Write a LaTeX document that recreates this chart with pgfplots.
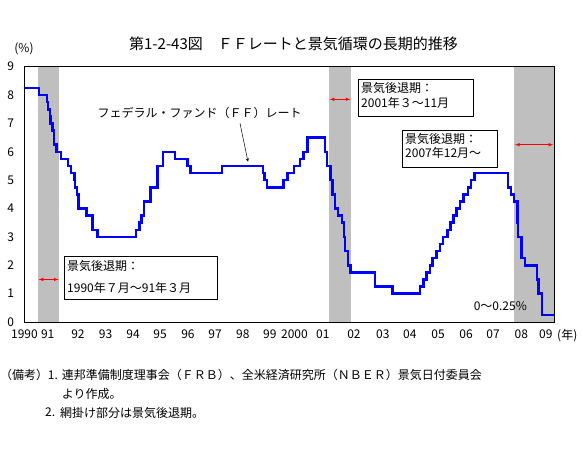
\documentclass[border=0pt]{standalone}
\usepackage{fontspec}
\setmainfont{Noto Sans CJK JP}
\usepackage{pgfplots}
\pgfplotsset{compat=1.18}
\definecolor{shade}{rgb}{0.75,0.75,0.75}
\newcommand{\fs}{\fontsize{12}{14}\selectfont}
\begin{document}
\begin{tikzpicture}
\path[use as bounding box] (0pt,0pt) rectangle (583pt,450pt);
\begin{axis}[
  at={(24.5pt,128pt)}, anchor=south west,
  scale only axis, width=529.5pt, height=255.3pt,
  xmin=1990, xmax=2009.4, ymin=0, ymax=9,
  ytick={0,1,2,3,4,5,6,7,8,9},
  xtick={1990,1990.85,1991.96,1992.97,1993.98,1994.97,1995.99,1996.98,1998.0,1998.99,1999.89,2000.93,2002.07,2003.13,2004.12,2005.15,2006.18,2007.17,2008.2,2009.1},
  xticklabels={{1990\hspace{13pt}},91,92,93,94,95,96,97,98,99,2000,01,02,03,04,05,06,07,08,09},
  major tick length=0pt,
  axis line style={line width=0.8pt},
  tick label style={font=\fs},
  /pgf/number format/assume math mode=true,
  yticklabel style={xshift=-7pt},
  xticklabel style={yshift=-4pt},
]
\addplot[fill=shade, draw=none] coordinates {(1990.5,9) (1991.27,9)} \closedcycle;
\addplot[fill=shade, draw=none] coordinates {(2001.16,9) (2001.96,9)} \closedcycle;
\addplot[fill=shade, draw=none] coordinates {(2007.94,9) (2009.4,9)} \closedcycle;
\addplot[const plot, blue, line width=2.5pt, mark=none] coordinates {
(1990,8.25) (1990.53,8.0) (1990.82,7.75) (1990.87,7.5) (1990.93,7.25) (1990.96,7.0)
(1991.02,6.75) (1991.08,6.25) (1991.18,6.0) (1991.33,5.75) (1991.60,5.5) (1991.70,5.25)
(1991.83,5.0) (1991.85,4.75) (1991.93,4.5) (1991.97,4.0) (1992.27,3.75) (1992.50,3.25)
(1992.68,3.0) (1994.09,3.25) (1994.22,3.5) (1994.29,3.75) (1994.37,4.25) (1994.62,4.75)
(1994.87,5.5) (1995.08,6.0) (1995.51,5.75) (1995.97,5.5) (1996.08,5.25) (1997.23,5.5)
(1998.74,5.25) (1998.79,5.0) (1998.88,4.75) (1999.49,5.0) (1999.64,5.25) (1999.87,5.5)
(2000.09,5.75) (2000.22,6.0) (2000.37,6.5) (2001.01,6.0) (2001.08,5.5) (2001.21,5.0)
(2001.29,4.5) (2001.37,4.0) (2001.49,3.75) (2001.64,3.5) (2001.71,3.0) (2001.75,2.5)
(2001.85,2.0) (2001.94,1.75) (2002.85,1.25) (2003.48,1.0) (2004.49,1.25) (2004.61,1.5)
(2004.72,1.75) (2004.86,2.0) (2004.95,2.25) (2005.09,2.5) (2005.22,2.75) (2005.33,3.0)
(2005.49,3.25) (2005.60,3.5) (2005.72,3.75) (2005.83,4.0) (2005.95,4.25) (2006.08,4.5)
(2006.24,4.75) (2006.36,5.0) (2006.49,5.25) (2007.71,4.75) (2007.83,4.5) (2007.94,4.25)
(2008.06,3.5) (2008.08,3.0) (2008.21,2.25) (2008.33,2.0) (2008.77,1.5) (2008.83,1.0)
(2008.96,0.25) (2009.4,0.25)
};
\draw[red, <->, >=latex, line width=0.6pt] (axis cs:1990.52,1.5) -- (axis cs:1991.25,1.5);
\draw[red, <->, >=latex, line width=0.6pt] (axis cs:2001.18,7.85) -- (axis cs:2001.94,7.85);
\draw[red, <->, >=latex, line width=0.6pt] (axis cs:2007.97,6.25) -- (axis cs:2009.37,6.25);
\end{axis}
% title and axis captions
\node[font=\fontsize{15}{17}\selectfont, inner sep=0pt] at (293.5pt,406pt) {第1-2-43図　ＦＦレートと景気循環の長期的推移};
\node[font=\fs, inner sep=0pt] at (24pt,401pt) {(\%)};
\node[font=\fs, inner sep=0pt, anchor=west] at (557pt,114pt) {(年)};
% FF label and arrow
\node[font=\fs, inner sep=0pt, anchor=west] at (97.3pt,336.7pt) {フェデラル・ファンド（ＦＦ）レート};
\draw[->, >=stealth, line width=0.5pt] (240pt,326.7pt) -- (248pt,288.3pt);
% box 1
\draw[fill=white, line width=0.7pt] (64.3pt,150.7pt) rectangle (217.3pt,193.3pt);
\node[font=\fs, inner sep=0pt, anchor=west] at (67pt,184pt) {景気後退期：};
\node[font=\fs, inner sep=0pt, anchor=west] at (67pt,162.5pt) {1990年７月〜91年３月};
% box 2
\draw[fill=white, line width=0.7pt] (358.3pt,334pt) rectangle (473.3pt,370.7pt);
\node[font=\fs, inner sep=0pt, anchor=west] at (361pt,361.7pt) {景気後退期：};
\node[font=\fs, inner sep=0pt, anchor=west] at (361pt,347.2pt) {2001年３〜11月};
% box 3
\draw[fill=white, line width=0.7pt] (402.3pt,283pt) rectangle (497.3pt,320pt);
\node[font=\fs, inner sep=0pt, anchor=west] at (405pt,311pt) {景気後退期：};
\node[font=\fs, inner sep=0pt, anchor=west] at (405pt,296.7pt) {2007年12月〜};
% lower bound note
\node[font=\fs, inner sep=0pt] at (500.3pt,144pt) {0〜0.25\%};
% notes
\node[font=\fs, inner sep=0pt, anchor=west] at (0pt,75pt) {（備考）};
\node[font=\fs, inner sep=0pt, anchor=west] at (47.7pt,75pt) {1.};
\node[font=\fs, inner sep=0pt, anchor=west] at (61.7pt,75pt) {連邦準備制度理事会（ＦＲＢ）、全米経済研究所（ＮＢＥＲ）景気日付委員会};
\node[font=\fs, inner sep=0pt, anchor=west] at (61.7pt,56.3pt) {より作成。};
\node[font=\fs, inner sep=0pt, anchor=west] at (45pt,37.3pt) {2.};
\node[font=\fs, inner sep=0pt, anchor=west] at (60pt,37.3pt) {網掛け部分は景気後退期。};
\end{tikzpicture}
\end{document}
